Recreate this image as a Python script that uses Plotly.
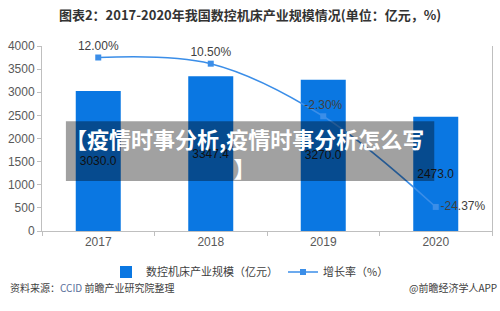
import plotly.graph_objects as go

years = ["2017", "2018", "2019", "2020"]
scale = [3030.0, 3347.4, 3270.0, 2473.0]
growth = [12.00, 10.50, -2.30, -24.37]
growth_labels = ["12.00%", "10.50%", "-2.30%", "-24.37%"]
yticks = [0, 500, 1000, 1500, 2000, 2500, 3000, 3500, 4000]

FONT = "Liberation Sans, Noto Sans CJK SC, sans-serif"
CJK = "Noto Sans CJK SC, sans-serif"

fig = go.Figure()
fig.add_trace(go.Bar(
    x=years, y=scale, name="数控机床产业规模（亿元）",
    marker=dict(color="#0a77e2", line=dict(width=0)),
    width=0.4,
    text=[f"{v:.1f}" for v in scale], textposition="inside",
    insidetextanchor="middle", textangle=0,
    textfont=dict(color="#1a1a1a", size=12, family=FONT),
))
fig.add_trace(go.Scatter(
    x=years, y=growth, name="增长率（%）", yaxis="y2",
    mode="lines+markers+text",
    line=dict(color="#3b8ee8", width=1.5, shape="spline"),
    marker=dict(symbol="square", size=6, color="#3b8ee8"),
    text=growth_labels,
    textposition=["top center", "top center", "top center", "middle right"],
    textfont=dict(color="#404040", size=12, family=FONT),
    cliponaxis=False,
))

W, H = 500, 311
L, R, T, B = 40, 8, 46, 73
pw, ph = W - L - R, H - T - B

def px(x):
    return (x - L) / pw

def py(y):
    return (H - B - y) / ph

fig.update_layout(
    width=W, height=H,
    margin=dict(l=L, r=R, t=T, b=B),
    paper_bgcolor="white", plot_bgcolor="white",
    font=dict(family=FONT, color="#595959", size=12),
    title=dict(text="<b>图表2：2017-2020年我国数控机床产业规模情况(单位：亿元，%)</b>",
               x=0.5, xref="container", xanchor="center",
               y=1 - 15 / H, yref="container", yanchor="middle",
               font=dict(family=CJK, size=13, color="#333333")),
    xaxis=dict(type="category", showline=True, linecolor="#bfbfbf", linewidth=1,
               ticks="outside", tickson="boundaries", ticklen=4, tickcolor="#bfbfbf",
               showgrid=False, tickfont=dict(size=12, color="#595959")),
    yaxis=dict(range=[0, 4000], tickvals=yticks, showline=True, linecolor="#bfbfbf",
               ticks="outside", ticklen=4, tickcolor="#bfbfbf", showgrid=False,
               zeroline=False, tickfont=dict(size=12, color="#595959")),
    yaxis2=dict(overlaying="y", side="right", range=[-30.25, 14.8], showgrid=False,
                zeroline=False, showticklabels=False, showline=True,
                linecolor="#bfbfbf", ticks=""),
    showlegend=True,
    legend=dict(orientation="h", xref="container", x=0.5, xanchor="center",
                yref="container", y=39 / H, yanchor="middle",
                font=dict(family=CJK, size=11, color="#404040"),
                itemwidth=30, bgcolor="rgba(0,0,0,0)"),
    bargap=0.6,
)

fig.add_shape(type="rect", xref="paper", yref="paper",
              x0=px(64), x1=px(434), y0=py(186), y1=py(124),
              fillcolor="rgba(0,0,0,0.37)", line=dict(width=0), layer="above")

fig.add_annotation(xref="paper", yref="paper", x=px(243), y=py(156),
                   text="<b>【疫情时事分析,疫情时事分析怎么写<br>】</b>",
                   showarrow=False, align="center", xanchor="center", yanchor="middle",
                   font=dict(family=CJK, size=22, color="white"))

fig.add_annotation(xref="paper", yref="paper", x=px(6), y=py(296),
                   text="资料来源：<span style='color:#5a6f9a'>CCID</span> 前瞻产业研究院整理",
                   showarrow=False, xanchor="left", yanchor="middle",
                   font=dict(family=CJK, size=10, color="#404040"))
fig.add_annotation(xref="paper", yref="paper", x=px(499), y=py(296),
                   text="@前瞻经济学人APP",
                   showarrow=False, xanchor="right", yanchor="middle",
                   font=dict(family=CJK, size=10, color="#404040"))

fig.write_html("out.html")
